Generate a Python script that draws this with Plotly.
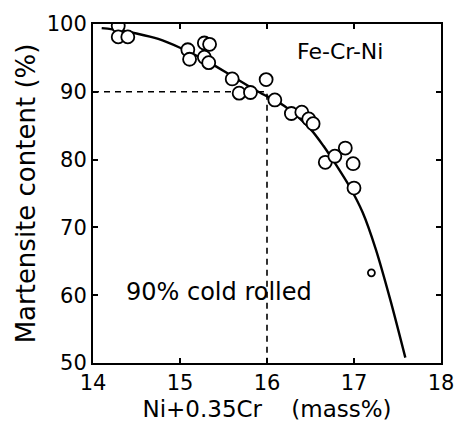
import plotly.graph_objects as go

# measured points: Ni + 0.35Cr (mass%) vs martensite content (%)
x_pts = [14.29, 14.29, 14.40, 15.09, 15.11, 15.28, 15.34, 15.28, 15.33, 15.60,
         15.68, 15.81, 15.99, 16.09, 16.28, 16.40, 16.48, 16.53, 16.67, 16.78,
         16.90, 16.99, 17.00]
y_pts = [99.7, 98.1, 98.1, 96.2, 94.8, 97.2, 97.0, 95.1, 94.3, 91.9,
         89.8, 89.9, 91.8, 88.8, 86.8, 87.0, 86.0, 85.3, 79.6, 80.5,
         81.7, 79.4, 75.8]
# small open circle
x_small = [17.20]
y_small = [63.3]

# fitted curve
x_curve = [14.10, 14.30, 14.50, 14.75, 15.00, 15.30, 15.60, 15.90, 16.20,
           16.50, 16.65, 16.80, 16.95, 17.10, 17.25, 17.42, 17.59]
y_curve = [99.4, 99.1, 98.6, 97.8, 96.5, 94.6, 92.3, 90.0, 87.9,
           84.5, 82.0, 79.1, 76.0, 72.2, 66.8, 59.2, 50.8]

# reference dashed guide
x_ref = [14.0, 16.0, 16.0]
y_ref = [90.0, 90.0, 50.0]

FONT = "DejaVu Sans"

fig = go.Figure()
fig.add_trace(go.Scatter(x=x_ref, y=y_ref, mode="lines",
                         line=dict(color="black", width=1.6, dash="6px,5px"),
                         showlegend=False, hoverinfo="skip"))
fig.add_trace(go.Scatter(x=x_curve, y=y_curve, mode="lines",
                         line=dict(color="black", width=2.4, shape="spline", smoothing=0.8),
                         showlegend=False))
fig.add_trace(go.Scatter(x=x_pts, y=y_pts, mode="markers",
                         marker=dict(symbol="circle", size=13, color="white",
                                     line=dict(color="black", width=1.8)),
                         showlegend=False))
fig.add_trace(go.Scatter(x=x_small, y=y_small, mode="markers",
                         marker=dict(symbol="circle", size=7, color="white",
                                     line=dict(color="black", width=1.8)),
                         showlegend=False))

axis_common = dict(showgrid=False, zeroline=False, showline=True, linecolor="black",
                   linewidth=2, mirror="ticks", ticks="inside", ticklen=5,
                   tickwidth=1.5, tickcolor="black",
                   tickfont=dict(family=FONT, size=21, color="black"))

fig.update_xaxes(range=[14, 18], tickvals=[14, 15, 16, 17, 18],
                 title=dict(text="Ni+0.35Cr\u00a0\u00a0\u00a0\u00a0(mass%)",
                            font=dict(family=FONT, size=23, color="black"), standoff=7),
                 **axis_common)
fig.update_yaxes(range=[50, 100], tickvals=[50, 60, 70, 80, 90, 100],
                 title=dict(text="Martensite content (%)",
                            font=dict(family=FONT, size=26, color="black"), standoff=4),
                 **axis_common)

fig.add_annotation(x=16.84, y=96.0, text="Fe-Cr-Ni", showarrow=False,
                   font=dict(family=FONT, size=22, color="black"))
fig.add_annotation(x=15.45, y=60.5, text="90% cold rolled", showarrow=False,
                   font=dict(family=FONT, size=24, color="black"))

fig.update_layout(width=466, height=437, plot_bgcolor="white", paper_bgcolor="white",
                  margin=dict(l=93, r=14, t=15, b=74))

fig.write_html("out.html")
